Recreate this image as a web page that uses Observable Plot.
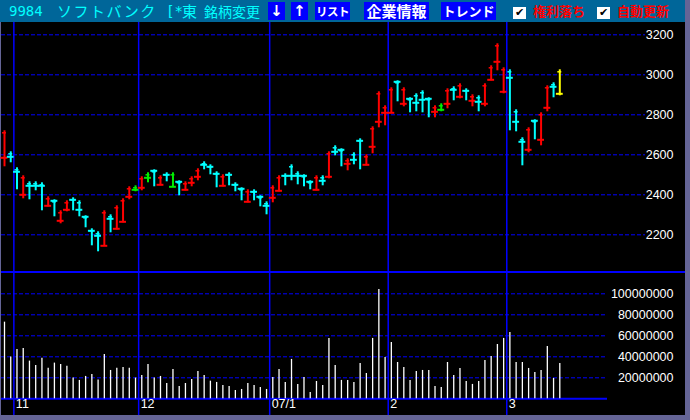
<!DOCTYPE html>
<html><head><meta charset="utf-8">
<script src="https://cdn.jsdelivr.net/npm/d3@7"></script>
<script src="https://cdn.jsdelivr.net/npm/@observablehq/plot@0.6"></script>
<style>
html,body{margin:0;padding:0;}
body{width:690px;height:420px;background:#646496;position:relative;overflow:hidden;font-family:"Liberation Sans",sans-serif;}
#hdr{position:absolute;left:0;top:0;width:685px;height:22px;background:#006699;}
#chart{position:absolute;left:1px;top:22px;width:684px;height:393px;background:#000;}
.t{position:absolute;white-space:nowrap;top:0;height:22px;line-height:22px;}
.cy{color:#00ffff;}
.btn{position:absolute;top:2px;height:18px;background:#0000ff;color:#fff;font-weight:bold;font-family:"Noto Sans CJK JP",sans-serif;line-height:18px;text-align:center;white-space:nowrap;overflow:visible;}
.cb{position:absolute;top:7px;width:13px;height:12px;background:#fff;color:#000;font-size:11px;line-height:12px;text-align:center;font-family:"DejaVu Sans";}
.rd{position:absolute;top:0;height:22px;line-height:22px;color:#ff0000;font-weight:bold;font-size:13px;font-family:"Noto Sans CJK JP",sans-serif;}
#sep{position:absolute;left:1px;top:271px;width:684px;height:2px;background:#0000ff;}
</style>
</head><body>
<div id="hdr">
  <span class="t cy" style="left:9px;font-family:'DejaVu Sans Mono';font-size:14px;">9984</span>
  <span class="t cy" style="left:57px;font-family:'Noto Sans CJK JP';font-size:15px;letter-spacing:1.5px;">ソフトバンク</span>
  <span class="t cy" style="left:166px;font-family:'DejaVu Sans Mono';font-size:14px;">[*</span>
  <span class="t cy" style="left:182px;font-family:'Noto Sans CJK JP';font-size:15px;">東</span>
  <span class="t cy" style="left:204px;font-family:'Noto Sans CJK JP';font-size:14px;">銘柄変更</span>
  <div class="btn" style="left:268px;width:17px;font-size:15px;font-family:'DejaVu Sans';">↓</div>
  <div class="btn" style="left:291px;width:17px;font-size:15px;font-family:'DejaVu Sans';">↑</div>
  <div class="btn" style="left:315px;width:35px;font-size:11.5px;letter-spacing:-0.5px;">リスト</div>
  <div class="btn" style="left:364px;width:65px;font-size:15px;">企業情報</div>
  <div class="btn" style="left:441px;width:55px;font-size:13px;">トレンド</div>
  <div class="cb" style="left:513px;">✔</div>
  <span class="rd" style="left:533px;">権利落ち</span>
  <div class="cb" style="left:597px;">✔</div>
  <span class="rd" style="left:617px;">自動更新</span>
</div>
<div id="chart"></div>
<script>
// ---- data (index = trading day) ----
const high = [2720,2615,2535,2495,2465,2465,2460,2390,2375,2320,
  2370,2385,2370,2295,2230,2215,2320,2300,2345,2380,
  2440,2445,2490,2510,2525,2495,2510,2510,2470,2465,
  2490,2530,2565,2550,2515,2500,2510,2460,2435,2425,
  2425,2395,2365,2445,2495,2505,2550,2515,2500,2470,
  2495,2495,2615,2645,2630,2580,2610,2680,2600,2740,
  2915,2845,2935,2970,2935,2885,2905,2920,2885,2845,
  2855,2930,2940,2955,2930,2900,2895,2955,3045,3155,
  3035,3025,2825,2685,2735,2775,2810,2945,2960,3025];
const low = [2540,2560,2425,2380,2375,2420,2320,2340,2290,2255,
  2315,2320,2290,2235,2145,2115,2145,2210,2225,2260,
  2375,2415,2420,2460,2440,2445,2465,2440,2395,2420,
  2440,2470,2525,2500,2435,2440,2445,2415,2370,2360,
  2370,2340,2300,2360,2415,2445,2470,2450,2440,2425,
  2420,2445,2480,2595,2540,2520,2550,2525,2545,2605,
  2735,2745,2810,2865,2840,2810,2815,2810,2785,2785,
  2815,2830,2870,2880,2870,2840,2815,2840,2970,3020,
  2905,2720,2715,2545,2610,2675,2645,2815,2885,2895];
const tick = [2585,2590,2515,2400,2445,2445,2445,2345,2370,2270,
  2325,2375,2325,2290,2220,2195,2145,2280,2230,2265,
  2390,2425,2435,2485,2520,2450,2500,2440,2465,2425,
  2460,2490,2550,2540,2505,2445,2500,2450,2430,2365,
  2415,2390,2345,2385,2420,2495,2495,2495,2495,2465,
  2425,2470,2490,2615,2625,2555,2575,2670,2550,2640,
  2765,2810,2810,2965,2855,2880,2860,2875,2880,2815,
  2825,2855,2925,2890,2920,2870,2865,2855,2975,3065,
  2915,2985,2765,2665,2625,2770,2675,2835,2940,2905];
// R = up (red), C = down (cyan), G = unchanged (green), Y = latest (yellow)
const kind = ["R","C","C","R","C","C","C","R","C","R",
  "R","C","C","C","C","C","R","C","R","R",
  "R","G","R","G","C","R","C","G","C","R",
  "R","R","C","C","C","R","C","C","C","R",
  "C","C","C","R","R","C","C","C","C","C",
  "R","C","R","C","C","R","C","C","R","R",
  "R","R","R","C","R","C","C","C","C","R",
  "G","R","C","R","C","R","C","R","R","R",
  "R","C","C","C","R","C","R","R","C","Y"];
const volume = [73000000,39700000,47000000,48000000,35900000,31700000,38700000,29200000,34000000,32700000,
  31100000,19700000,17500000,21300000,23200000,17800000,42200000,27000000,29200000,29800000,
  29200000,19700000,22200000,32700000,19700000,21300000,14600000,27900000,11700000,14600000,
  18400000,26000000,22200000,16800000,15600000,12700000,11700000,7900000,8900000,14600000,
  12700000,10800000,8900000,20300000,27900000,15600000,37500000,13700000,20300000,6000000,
  16500000,12700000,57500000,31700000,17500000,17500000,15600000,33700000,24100000,57500000,
  104100000,39400000,53700000,34600000,29800000,17500000,26000000,27000000,27000000,11700000,
  10800000,34600000,22200000,28900000,16500000,13700000,16500000,36500000,40300000,51700000,
  57500000,63200000,34600000,34600000,28900000,25100000,27000000,49800000,19400000,33700000];
const monthStart = [2, 22, 43, 62, 81];
const monthLabel = ["11", "12", "07/1", "2", "3"];
const priceTicks = [2200, 2400, 2600, 2800, 3000, 3200];
const volumeTicks = [20000000, 40000000, 60000000, 80000000, 100000000];

// ---- build ----
const colorOf = {R: "#ff0000", C: "#00ffff", G: "#00ee00", Y: "#ffff00"};
const bars = high.map((h, i) => ({i, high: h, low: low[i], tick: tick[i], col: colorOf[kind[i]], vol: volume[i]}));
const months = monthStart.map((s, k) => ({x: s - 0.5, label: monthLabel[k]}));
const xOpt = {domain: [0, high.length - 1], range: [4, 559.3], axis: null};
const grid = {stroke: "#0000ff", strokeDasharray: "4,2", strokeWidth: 1};
const font = {fontFamily: "Liberation Sans", fontSize: "12.5px", background: "transparent", overflow: "visible"};

const price = Plot.plot({
  width: 690, height: 250,
  marginLeft: 1, marginRight: 45, marginTop: 0, marginBottom: 0,
  x: xOpt,
  y: {domain: [2200, 3200], range: [212.3, 12.3], axis: null},
  style: font,
  marks: [
    Plot.ruleY(priceTicks, grid),
    Plot.ruleX(months, {x: "x", stroke: "#0000ff", strokeWidth: 1.5}),
    Plot.text(priceTicks, {y: d => d, text: d => String(d), frameAnchor: "right", textAnchor: "end", dx: 28, fill: "white", fontSize: 12.5}),
    Plot.ruleX(bars, {x: "i", y1: "low", y2: "high", stroke: "col", strokeWidth: 2}),
    Plot.ruleY(bars, {y: "tick", x1: d => d.i - 0.55, x2: d => d.i + 0.55, stroke: "col", strokeWidth: 2}),
    Plot.ruleY(bars, {y: "high", x1: d => d.i - 0.32, x2: d => d.i + 0.32, dy: 2, stroke: "col", strokeWidth: 1.5})
  ]
});
price.style.position = "absolute";
price.style.top = "22px";
price.style.left = "0px";
document.body.appendChild(price);

const vol = Plot.plot({
  width: 690, height: 143,
  marginLeft: 1, marginRight: 83, marginTop: 0, marginBottom: 0,
  x: xOpt,
  y: {domain: [0, 100000000], range: [126.3, 21.3], axis: null},
  style: font,
  marks: [
    Plot.ruleY(volumeTicks, grid),
    Plot.ruleY([0], {stroke: "#0000ff", strokeWidth: 2}),
    Plot.ruleX(months, {x: "x", stroke: "#0000ff", strokeWidth: 1.5}),
    Plot.ruleX(bars, {x: "i", y1: 0, y2: "vol", stroke: "white", strokeWidth: 1.3}),
    Plot.text(volumeTicks, {y: d => d, text: d => String(d), frameAnchor: "right", textAnchor: "end", dx: 66, fill: "white", fontSize: 12.5}),
    Plot.text(months, {x: "x", text: "label", frameAnchor: "bottom", textAnchor: "start", dx: 2, dy: -7.5, fill: "white", fontSize: 12.5})
  ]
});
vol.style.position = "absolute";
vol.style.top = "272px";
vol.style.left = "0px";
document.body.appendChild(vol);

const sep = document.createElement("div");
sep.id = "sep";
document.body.appendChild(sep);
</script>
</body></html>
